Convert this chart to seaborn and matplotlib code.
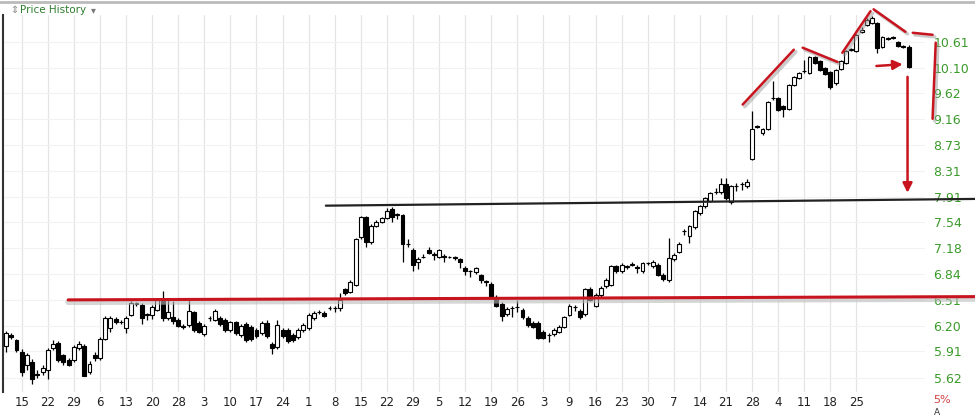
import numpy as np
import pandas as pd
import matplotlib
matplotlib.use("Agg")
import matplotlib.pyplot as plt
import seaborn as sns

opens = [5.97,6.09,6.03,5.90,5.75,5.79,5.66,5.68,5.70,5.94,6.00,5.86,5.81,5.81,5.94,5.97,5.68,5.86,5.83,6.05,
         6.17,6.28,6.24,6.17,6.33,6.46,6.45,6.33,6.33,6.39,6.51,6.29,6.30,6.27,6.19,6.21,6.36,6.23,6.10,6.29,
         6.27,6.29,6.27,6.15,6.24,6.09,6.22,6.19,6.15,6.11,6.23,5.99,5.95,6.15,6.15,6.09,6.07,6.15,6.17,6.29,
         6.36,6.35,6.41,6.41,6.41,6.64,6.61,6.70,7.33,7.61,7.26,7.49,7.55,7.60,7.73,7.65,7.64,7.23,7.16,6.99,
         7.06,7.16,7.09,7.06,7.08,7.06,7.05,7.03,6.92,6.87,6.86,6.82,6.74,6.71,6.55,6.46,6.34,6.41,6.42,6.39,
         6.29,6.23,6.23,6.13,6.09,6.10,6.13,6.19,6.33,6.42,6.38,6.34,6.65,6.44,6.57,6.68,6.70,6.94,6.87,6.94,
         6.96,6.93,6.87,6.98,6.94,6.96,6.83,6.76,7.03,7.13,7.41,7.34,7.47,7.67,7.77,7.85,7.98,7.98,8.10,7.83,
         8.07,8.10,8.07,8.50,9.05,8.92,9.00,9.53,9.53,9.40,9.35,9.77,9.90,10.04,10.00,10.30,10.23,10.09,10.02,9.81,
         10.07,10.19,10.45,10.43,10.80,10.95,11.00,11.00,10.51,10.67,10.70,10.61,10.51,10.51]
closes = [6.11,6.07,5.92,5.68,5.86,5.61,5.65,5.72,5.92,5.99,5.81,5.79,5.76,5.95,5.99,5.64,5.77,5.83,6.05,6.29,
          6.29,6.24,6.24,6.29,6.47,6.46,6.29,6.33,6.42,6.51,6.29,6.36,6.26,6.20,6.19,6.38,6.15,6.13,6.20,6.29,
          6.38,6.22,6.15,6.24,6.11,6.20,6.03,6.05,6.08,6.23,6.08,5.94,6.21,6.08,6.02,6.03,6.15,6.21,6.33,6.35,
          6.36,6.32,6.41,6.41,6.51,6.59,6.74,7.30,7.61,7.26,7.49,7.55,7.60,7.70,7.62,7.65,7.23,7.23,6.96,7.03,
          7.06,7.12,7.09,7.15,7.06,7.06,7.05,6.99,6.88,6.87,6.91,6.76,6.74,6.55,6.44,6.32,6.40,6.41,6.42,6.30,
          6.21,6.19,6.06,6.06,6.09,6.15,6.19,6.30,6.44,6.42,6.30,6.64,6.51,6.57,6.66,6.76,6.94,6.87,6.96,6.93,
          6.97,6.91,6.98,6.98,7.00,6.83,6.77,7.05,7.09,7.24,7.41,7.48,7.70,7.77,7.89,7.97,7.98,8.10,7.89,8.07,
          8.07,8.10,8.13,9.00,9.03,9.00,9.47,9.53,9.33,9.35,9.77,9.92,10.00,10.04,10.30,10.19,10.06,9.98,9.73,10.06,
          10.23,10.43,10.45,10.75,10.85,11.06,11.10,10.49,10.70,10.67,10.68,10.53,10.51,10.11]
highs = [6.14,6.12,6.05,5.93,5.89,5.82,5.70,5.75,5.94,6.03,6.02,5.88,5.83,5.98,6.02,5.99,5.80,5.90,6.07,6.31,
         6.32,6.30,6.27,6.31,6.49,6.48,6.47,6.35,6.45,6.53,6.62,6.51,6.50,6.29,6.22,6.51,6.38,6.25,6.22,6.31,
         6.40,6.31,6.29,6.26,6.26,6.22,6.24,6.21,6.17,6.26,6.27,6.01,6.27,6.17,6.17,6.11,6.17,6.23,6.35,6.37,
         6.39,6.37,6.44,6.43,6.60,6.66,6.76,7.32,7.63,7.63,7.51,7.57,7.62,7.75,7.76,7.68,7.66,7.30,7.18,7.06,
         7.10,7.20,7.13,7.17,7.10,7.08,7.08,7.05,6.94,6.89,6.93,6.84,6.76,6.73,6.57,6.48,6.42,6.43,6.51,6.41,
         6.31,6.25,6.25,6.15,6.11,6.17,6.21,6.32,6.46,6.45,6.40,6.66,6.67,6.59,6.68,6.78,6.96,6.96,6.98,6.96,
         6.99,6.95,7.00,7.00,7.02,6.98,6.85,7.32,7.11,7.26,7.44,7.50,7.72,7.79,7.91,7.99,8.05,8.20,8.20,8.09,
         8.12,8.13,8.18,9.30,9.07,9.02,9.49,9.85,9.55,9.42,9.79,9.94,10.02,10.25,10.33,10.33,10.25,10.11,10.04,10.08,
         10.25,10.45,10.48,10.77,10.90,11.10,11.14,11.02,10.72,10.70,10.72,10.63,10.55,10.55]
lows = [5.90,6.04,5.90,5.64,5.70,5.55,5.62,5.65,5.60,5.92,5.79,5.76,5.74,5.79,5.92,5.64,5.66,5.80,5.81,6.03,
        6.13,6.22,6.22,6.11,6.31,6.44,6.22,6.27,6.28,6.37,6.26,6.27,6.22,6.18,6.16,6.19,6.13,6.11,6.08,6.25,
        6.25,6.20,6.13,6.13,6.09,6.07,6.01,6.02,6.06,6.09,6.06,5.88,5.93,6.06,6.00,6.01,6.05,6.13,6.15,6.27,
        6.34,6.30,6.39,6.36,6.37,6.57,6.59,6.68,7.31,7.20,7.24,7.47,7.53,7.58,7.55,7.58,7.00,7.20,6.88,6.90,
        7.04,7.10,7.02,7.04,7.00,7.04,7.02,6.92,6.83,6.80,6.84,6.72,6.68,6.53,6.42,6.26,6.32,6.30,6.36,6.28,
        6.19,6.17,6.04,6.04,6.01,6.08,6.11,6.17,6.31,6.38,6.28,6.32,6.49,6.42,6.55,6.66,6.68,6.85,6.85,6.90,
        6.94,6.85,6.85,6.96,6.92,6.81,6.75,6.74,7.01,7.11,7.36,7.25,7.45,7.65,7.75,7.83,7.96,7.96,7.87,7.81,
        8.00,8.02,8.05,8.48,9.01,8.90,8.98,9.50,9.31,9.20,9.33,9.75,9.88,10.00,9.98,10.17,10.04,9.96,9.70,9.78,
        10.05,10.17,10.43,10.40,10.78,10.93,10.98,10.38,10.49,10.64,10.66,10.51,10.49,10.09]

week_labels = ['15','22','29','6','13','20','28','3','10','17','24','1','8','15','22','29','5',
               '12','19','26','3','9','16','23','30','7','14','21','28','4','11','18','25']
price_ticks = [5.62,5.91,6.20,6.51,6.84,7.18,7.54,7.91,8.31,8.73,9.16,9.62,10.10,10.61]

df = pd.DataFrame({"open": opens, "close": closes, "high": highs, "low": lows})
df["idx"] = np.arange(len(df))

sns.set_theme(style="white")
plt.rcParams['font.family'] = ['DejaVu Sans']

fig = plt.figure(figsize=(9.75, 4.16), dpi=100)
ax = fig.add_axes([0.003, 0.058, 0.946, 0.906])
ax.set_yscale('log')
ax.set_xlim(-0.6, 176.2)
ax.set_ylim(5.47, 11.16)

week_pos = [3 + 5 * k for k in range(len(week_labels))]
for p in week_pos:
    ax.axvline(p, color='#e4e4e4', lw=0.9, zorder=0)
for t in price_ticks:
    ax.axhline(t, color='#f2f2f2', lw=0.8, zorder=0)

ax.vlines(df["idx"], df["low"], df["high"], color='black', lw=0.9, zorder=2)
up = df["close"] >= df["open"]
bot = np.minimum(df["open"], df["close"])
top = np.maximum(df["open"], df["close"])
hgt = np.maximum(top - bot, 0.006)
ax.bar(df["idx"][up], hgt[up], bottom=bot[up], width=0.75, color='white',
       edgecolor='black', linewidth=0.8, zorder=3)
ax.bar(df["idx"][~up], hgt[~up], bottom=bot[~up], width=0.75, color='black',
       edgecolor='black', linewidth=0.8, zorder=3)

ax.set_xticks(week_pos)
ax.set_xticklabels(week_labels, fontsize=8.5, color='#222222')
ax.yaxis.tick_right()
ax.set_yticks(price_ticks)
ax.set_yticklabels([f"{t:.2f}" for t in price_ticks], fontsize=9, color='#3a9a2a')
ax.minorticks_off()
ax.tick_params(axis='both', length=0, pad=3)
ax.tick_params(axis='y', pad=6)
for s in ['top', 'right', 'bottom']:
    ax.spines[s].set_visible(False)
ax.spines['left'].set_color('#333333')
ax.spines['left'].set_linewidth(1.5)

# annotations
red = '#c8141e'
ax.plot([11.9, 185.8], [6.48, 6.52], color='#bbbbbb', lw=4, alpha=0.6, clip_on=False, zorder=4)
ax.plot([11.9, 185.8], [6.51, 6.55], color=red, lw=2.2, clip_on=False, zorder=5)
ax.plot([61.3, 185.8], [7.78, 7.88], color='#222222', lw=1.6, clip_on=False, zorder=5)
segs = [((141.2, 9.42), (151.0, 10.45)), ((152.7, 10.49), (159.4, 10.21)),
        ((160.3, 10.39), (165.7, 11.24)), ((166.3, 11.28), (172.4, 10.81)),
        ((173.8, 10.79), (177.6, 10.75)), ((178.2, 10.59), (177.6, 9.17))]
shift = ax.transData + matplotlib.transforms.ScaledTranslation(1.5/72, -1.5/72, fig.dpi_scale_trans)
for (x0, y0), (x1, y1) in segs:
    ax.plot([x0, x1], [y0, y1], color='#999999', lw=2.5, alpha=0.5, clip_on=False, zorder=4,
            transform=shift)
    ax.plot([x0, x1], [y0, y1], color=red, lw=1.8, clip_on=False, zorder=6)
ax.annotate('', xy=(172.4, 10.17), xytext=(166.3, 10.13),
            arrowprops=dict(arrowstyle='-|>', color=red, lw=1.8, mutation_scale=14), zorder=6)
ax.annotate('', xy=(172.8, 7.93), xytext=(172.8, 9.98),
            arrowprops=dict(arrowstyle='-|>', color=red, lw=1.8, mutation_scale=14), zorder=6)

fig.text(0.010, 0.976, '⇕', fontsize=7, color='#888888', va='center')
fig.text(0.021, 0.976, 'Price History', fontsize=7.5, color='#2e7d2e', va='center')
fig.text(0.093, 0.976, '▾', fontsize=7, color='#777777', va='center')
fig.add_artist(matplotlib.lines.Line2D([0, 1], [0.996, 0.996], color='#bbbbbb', lw=2))
fig.text(0.957, 0.038, '5%', fontsize=8, color='#d04040', va='center')
fig.text(0.958, 0.008, 'A', fontsize=6.5, color='#333333', va='center')

fig.savefig('out.png', dpi=100)
